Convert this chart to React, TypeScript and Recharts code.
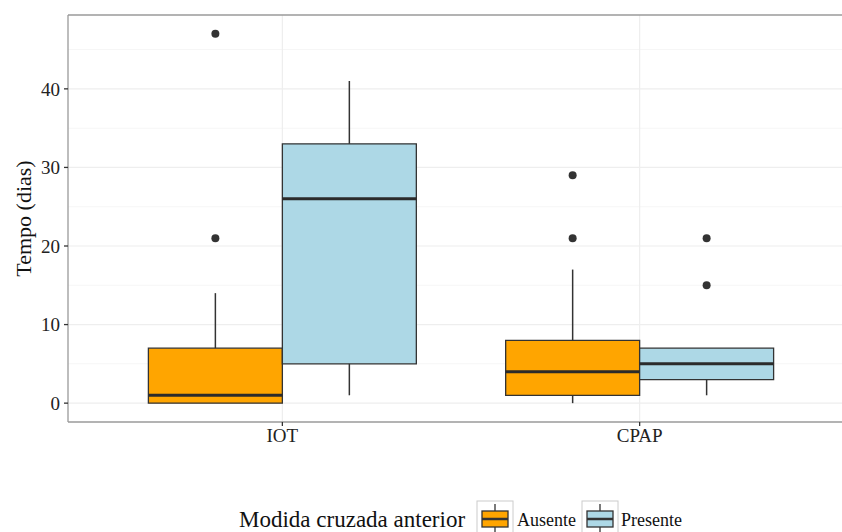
import React from 'react';
import { ComposedChart, XAxis, YAxis, ReferenceArea, ReferenceLine, Scatter } from 'recharts';

const categories = ['IOT', 'CPAP'];
const categoryPositions = [1, 2];
const groupNames = ['Ausente', 'Presente'];
const groupColors = ['#FFA500', '#ADD8E6'];

// box stats per category [IOT, CPAP]
const ausenteStats = [
  { min: 0, q1: 0, median: 1, q3: 7, max: 14 },
  { min: 0, q1: 1, median: 4, q3: 8, max: 17 },
];
const presenteStats = [
  { min: 1, q1: 5, median: 26, q3: 33, max: 41 },
  { min: 1, q1: 3, median: 5, q3: 7, max: 7 },
];
const ausenteOutliers = [[21, 47], [21, 29]];
const presenteOutliers = [[], [15, 21]];

const yTicks = [0, 10, 20, 30, 40];
const yMinorTicks = [5, 15, 25, 35, 45];

const FONT = '"Liberation Serif", "Times New Roman", serif';
const DODGE = 0.75;
const HALF = DODGE / 4;
const X_DOMAIN: [number, number] = [0.4, 2.6];
const Y_DOMAIN: [number, number] = [-2.4, 49.4];
const GRID_HALF_Y = 0.065;
const GRID_HALF_X = 0.0017;

const groups = [
  { name: groupNames[0], color: groupColors[0], stats: ausenteStats, outliers: ausenteOutliers, offset: -HALF },
  { name: groupNames[1], color: groupColors[1], stats: presenteStats, outliers: presenteOutliers, offset: HALF },
];

const outlierData = groups.flatMap((g) =>
  g.outliers.flatMap((vals, ci) => vals.map((v) => ({ x: categoryPositions[ci] + g.offset, y: v })))
);

const Dot = (props: any) => <circle cx={props.cx} cy={props.cy} r={4} fill="#333333" />;

const YLabel = (props: any) => {
  const vb = props.viewBox || { x: 0, y: 15, width: 68, height: 407 };
  const cy = vb.y + vb.height / 2;
  const cx = 23;
  return (
    <text x={cx} y={cy} transform={`rotate(-90 ${cx} ${cy})`} textAnchor="middle" dominantBaseline="central"
      fontFamily={FONT} fontSize={22} fill="#111">
      Tempo (dias)
    </text>
  );
};

const LegendKey = ({ x, color }: { x: number; color: string }) => (
  <g>
    <rect x={x} y={501} width={36} height={36} fill="#fff" stroke="#cccccc" strokeWidth={1} />
    <line x1={x + 18} x2={x + 18} y1={504} y2={534} stroke="#333" strokeWidth={1.3} />
    <rect x={x + 5} y={511} width={26} height={16} fill={color} stroke="#333" strokeWidth={1.3} />
    <line x1={x + 5} x2={x + 31} y1={519} y2={519} stroke="#333" strokeWidth={2.5} />
  </g>
);

export default function App() {
  return (
    <div style={{ position: 'absolute', left: 0, top: 0, width: 842, height: 532, overflow: 'hidden', background: '#fff' }}>
      <ComposedChart width={860} height={532} margin={{ top: 15, right: 6, bottom: 80, left: 0 }}>
        <XAxis type="number" dataKey="x" domain={X_DOMAIN} ticks={categoryPositions} allowDataOverflow
          tickFormatter={(v: number) => categories[categoryPositions.indexOf(v)] ?? ''}
          height={30} tickSize={4} tickMargin={3}
          axisLine={{ stroke: '#9a9a9a', strokeWidth: 1.3 }}
          tickLine={{ stroke: '#333', strokeWidth: 1.3 }}
          tick={{ fontFamily: FONT, fontSize: 19, fill: '#222' }} />
        <YAxis type="number" dataKey="y" domain={Y_DOMAIN} ticks={yTicks} allowDataOverflow
          width={68} tickSize={4} tickMargin={4}
          axisLine={{ stroke: '#9a9a9a', strokeWidth: 1.3 }}
          tickLine={{ stroke: '#333', strokeWidth: 1.3 }}
          tick={{ fontFamily: FONT, fontSize: 19, fill: '#222' }}
          label={<YLabel />} />
        {yMinorTicks.map((v) => (
          <ReferenceArea key={'mn' + v} x1={X_DOMAIN[0]} x2={X_DOMAIN[1]} y1={v - GRID_HALF_Y} y2={v + GRID_HALF_Y}
            fill="#f6f6f6" fillOpacity={1} stroke="none" />
        ))}
        {yTicks.map((v) => (
          <ReferenceArea key={'mj' + v} x1={X_DOMAIN[0]} x2={X_DOMAIN[1]} y1={v - GRID_HALF_Y * 1.2} y2={v + GRID_HALF_Y * 1.2}
            fill="#eeeeee" fillOpacity={1} stroke="none" />
        ))}
        {categoryPositions.map((v) => (
          <ReferenceArea key={'vx' + v} x1={v - GRID_HALF_X} x2={v + GRID_HALF_X} y1={Y_DOMAIN[0]} y2={Y_DOMAIN[1]}
            fill="#eeeeee" fillOpacity={1} stroke="none" />
        ))}
        {groups.flatMap((g) =>
          g.stats.map((s, ci) => {
            const c = categoryPositions[ci] + g.offset;
            return (
              <ReferenceArea key={g.name + 'box' + ci} x1={c - HALF} x2={c + HALF} y1={s.q1} y2={s.q3}
                fill={g.color} fillOpacity={1} stroke="#333" strokeWidth={1.3} />
            );
          })
        )}
        <ReferenceLine y={Y_DOMAIN[1]} stroke="#9a9a9a" strokeWidth={1.3} />
        {groups.flatMap((g) =>
          g.stats.map((s, ci) => {
            const c = categoryPositions[ci] + g.offset;
            return (
              <ReferenceLine key={g.name + 'wu' + ci} segment={[{ x: c, y: s.q3 }, { x: c, y: s.max }]} stroke="#333" strokeWidth={1.5} />
            );
          })
        )}
        {groups.flatMap((g) =>
          g.stats.map((s, ci) => {
            const c = categoryPositions[ci] + g.offset;
            return (
              <ReferenceLine key={g.name + 'wl' + ci} segment={[{ x: c, y: s.min }, { x: c, y: s.q1 }]} stroke="#333" strokeWidth={1.5} />
            );
          })
        )}
        {groups.flatMap((g) =>
          g.stats.map((s, ci) => {
            const c = categoryPositions[ci] + g.offset;
            return (
              <ReferenceLine key={g.name + 'med' + ci} segment={[{ x: c - HALF, y: s.median }, { x: c + HALF, y: s.median }]} stroke="#2b2b2b" strokeWidth={3} />
            );
          })
        )}
        <Scatter data={outlierData} shape={<Dot />} isAnimationActive={false} />
      </ComposedChart>
      <svg width={842} height={532} style={{ position: 'absolute', left: 0, top: 0, pointerEvents: 'none' }}>
        <text x={239} y={527} fontFamily={FONT} fontSize={23} fill="#111">Modida cruzada anterior</text>
        <LegendKey x={477} color={groupColors[0]} />
        <text x={517} y={526} fontFamily={FONT} fontSize={18} fill="#111">{groupNames[0]}</text>
        <LegendKey x={582} color={groupColors[1]} />
        <text x={621} y={526} fontFamily={FONT} fontSize={18} fill="#111">{groupNames[1]}</text>
      </svg>
    </div>
  );
}
